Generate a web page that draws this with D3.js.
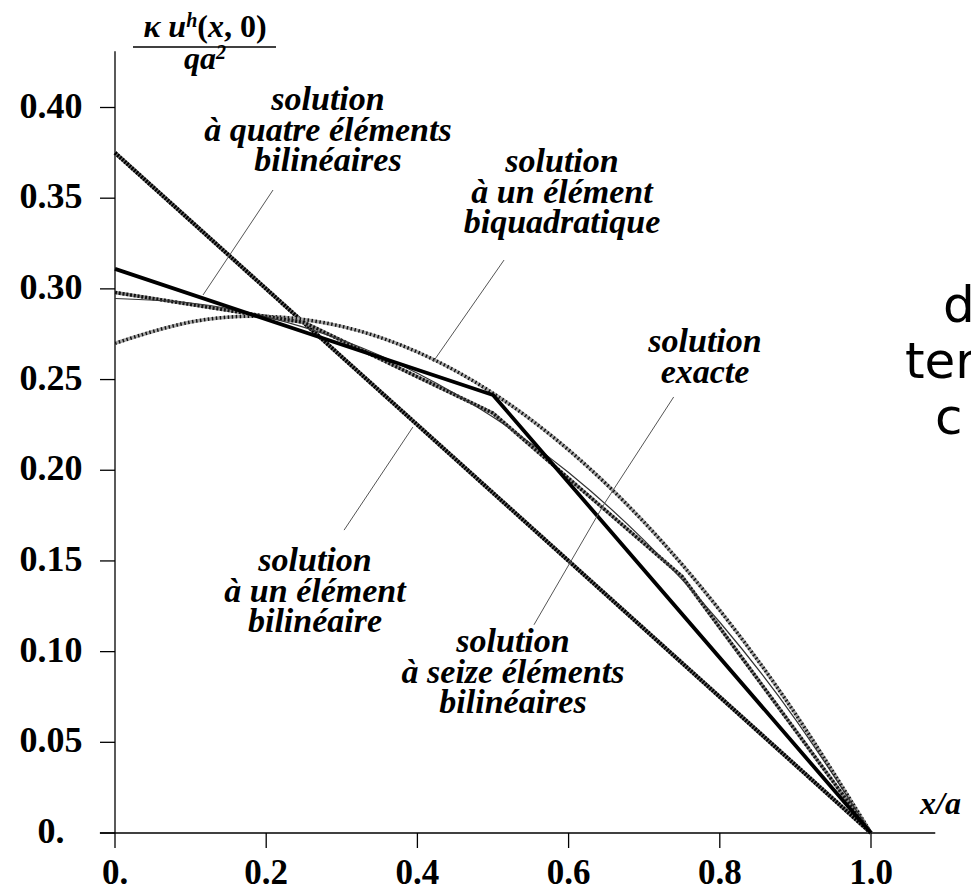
<!DOCTYPE html>
<html>
<head>
<meta charset="utf-8">
<script src="https://cdn.jsdelivr.net/npm/d3@7"></script>
<style>
  body { margin: 0; background: #ffffff; }
  svg { display: block; }
</style>
</head>
<body>
<div id="chart"></div>
<script>
// Sample positions along the edge y = 0 (x/a)
var xFine = [0, 0.1, 0.2, 0.3, 0.4, 0.5, 0.6, 0.7, 0.8, 0.9, 1.0];
var exactValues = [0.2947, 0.2922, 0.2846, 0.2718, 0.2535, 0.2293, 0.1988, 0.1613, 0.1162, 0.0627, 0];
var biquadValues = [0.270, 0.2817, 0.2848, 0.2793, 0.2652, 0.2425, 0.2112, 0.1713, 0.1228, 0.0657, 0];

// Nodal values of the bilinear meshes
var xSixteen = [0, 0.25, 0.5, 0.75, 1.0];
var sixteenValues = [0.298, 0.2815, 0.2315, 0.1415, 0];
var xFour = [0, 0.5, 1.0];
var fourValues = [0.311, 0.2415, 0];
var xOne = [0, 1.0];
var oneValues = [0.375, 0];

// Axis ticks
var xTicks = [0, 0.2, 0.4, 0.6, 0.8, 1.0];
var xTickLabels = ["0.", "0.2", "0.4", "0.6", "0.8", "1.0"];
var yTicks = [0, 0.05, 0.10, 0.15, 0.20, 0.25, 0.30, 0.35, 0.40];
var yTickLabels = ["0.", "0.05", "0.10", "0.15", "0.20", "0.25", "0.30", "0.35", "0.40"];

var drawChart = function () {
  const width = 971;
  const height = 893;
  var serif = "'Liberation Serif', 'Times New Roman', serif";

  var svg = d3.select("#chart")
    .append("svg")
    .attr("width", width)
    .attr("height", height)
    .style("background-color", "#ffffff");

  // Scales
  var x = d3.scaleLinear().domain([0, 1]).range([115, 871]);
  var y = d3.scaleLinear().domain([0, 0.4]).range([833, 107.5]);

  // Axis lines run a bit past the data
  var xExtent = [-0.02, 1.085];
  var yExtent = [0, 0.431];

  var axes = svg.append("g").attr("stroke", "#000").attr("stroke-width", 1.3);
  axes.append("line")
    .attr("x1", x(xExtent[0])).attr("x2", x(xExtent[1]))
    .attr("y1", y(0)).attr("y2", y(0));
  axes.append("line")
    .attr("x1", x(0)).attr("x2", x(0))
    .attr("y1", y(yExtent[1])).attr("y2", y(yExtent[0]));

  // x ticks point down, y ticks point left
  axes.selectAll(".xt").data(xTicks).enter().append("line")
    .attr("x1", d => x(d)).attr("x2", d => x(d))
    .attr("y1", y(0)).attr("y2", y(0) + 15);
  axes.selectAll(".yt").data(yTicks).enter().append("line")
    .attr("x1", x(0) - 15).attr("x2", x(0))
    .attr("y1", d => y(d)).attr("y2", d => y(d));

  svg.append("g").selectAll("text").data(xTicks).enter().append("text")
    .attr("x", d => x(d))
    .attr("y", y(0) + 51)
    .attr("text-anchor", "middle")
    .attr("font-family", serif).attr("font-weight", "bold").attr("font-size", 35)
    .text((d, i) => xTickLabels[i]);

  svg.append("g").selectAll("text").data(yTicks).enter().append("text")
    .attr("x", 51)
    .attr("y", d => y(d) + 10)
    .attr("text-anchor", "middle")
    .attr("font-family", serif).attr("font-weight", "bold").attr("font-size", 36)
    .text((d, i) => yTickLabels[i]);

  // y title as a fraction
  var yTitle = svg.append("g")
    .attr("font-family", serif).attr("font-weight", "bold").attr("font-size", 32);
  var num = yTitle.append("text").attr("x", 205).attr("y", 37).attr("text-anchor", "middle");
  num.append("tspan").attr("font-style", "italic").text("κ u");
  num.append("tspan").attr("font-style", "italic").attr("font-size", 20).attr("dy", -10).text("h");
  num.append("tspan").attr("dy", 10).text("(");
  num.append("tspan").attr("font-style", "italic").text("x");
  num.append("tspan").text(", 0)");
  yTitle.append("line")
    .attr("x1", 133).attr("x2", 276).attr("y1", 47).attr("y2", 47)
    .attr("stroke", "#000").attr("stroke-width", 1.5);
  var den = yTitle.append("text").attr("x", 205).attr("y", 69)
    .attr("text-anchor", "middle").attr("font-style", "italic");
  den.append("tspan").text("qa");
  den.append("tspan").attr("font-size", 20).attr("dy", -10).text("2");

  svg.append("text")
    .attr("x", 920).attr("y", 814)
    .attr("font-family", serif).attr("font-weight", "bold")
    .attr("font-style", "italic").attr("font-size", 32)
    .text("x/a");

  // Curves
  var line = d3.line().x(d => x(d[0])).y(d => y(d[1]));
  var smooth = d3.line().x(d => x(d[0])).y(d => y(d[1])).curve(d3.curveNatural);
  var pairs = (xs, vs) => xs.map((v, i) => [v, vs[i]]);

  var plot = svg.append("g").attr("fill", "none").attr("stroke-linejoin", "round");

  // one bilinear element: dark hatched straight line
  plot.append("path").attr("d", line(pairs(xOne, oneValues)))
    .attr("stroke", "#6e6e6e").attr("stroke-width", 4);
  plot.append("path").attr("d", line(pairs(xOne, oneValues)))
    .attr("stroke", "#000").attr("stroke-width", 4).attr("stroke-dasharray", "2,1.2");

  // one biquadratic element: lighter hatched curve
  plot.append("path").attr("d", smooth(pairs(xFine, biquadValues)))
    .attr("stroke", "#a8a8a8").attr("stroke-width", 3.5);
  plot.append("path").attr("d", smooth(pairs(xFine, biquadValues)))
    .attr("stroke", "#111").attr("stroke-width", 3.5).attr("stroke-dasharray", "1.5,2.5");

  // sixteen bilinear elements: hatched polyline
  plot.append("path").attr("d", line(pairs(xSixteen, sixteenValues)))
    .attr("stroke", "#8a8a8a").attr("stroke-width", 3.5);
  plot.append("path").attr("d", line(pairs(xSixteen, sixteenValues)))
    .attr("stroke", "#111").attr("stroke-width", 3.5).attr("stroke-dasharray", "2,1.8");

  // exact solution: thin line
  plot.append("path").attr("d", smooth(pairs(xFine, exactValues)))
    .attr("stroke", "#333").attr("stroke-width", 1.2);

  // four bilinear elements: solid black
  plot.append("path").attr("d", line(pairs(xFour, fourValues)))
    .attr("stroke", "#000").attr("stroke-width", 3.8);

  // Annotations: text blocks and leader lines (leaders in data units)
  var notes = [
    { lines: ["solution", "à quatre éléments", "bilinéaires"], cx: 328, top: 110,
      lead: [[0.209, 0.3545], [0.1164, 0.2966]] },
    { lines: ["solution", "à un élément", "biquadratique"], cx: 562, top: 172,
      lead: [[0.5146, 0.3159], [0.4206, 0.2597]] },
    { lines: ["solution", "exacte"], cx: 705, top: 352,
      lead: [[0.739, 0.2404], [0.647, 0.1814]] },
    { lines: ["solution", "à un élément", "bilinéaire"], cx: 315, top: 571,
      lead: [[0.394, 0.2238], [0.303, 0.167]] },
    { lines: ["solution", "à seize éléments", "bilinéaires"], cx: 513, top: 652,
      lead: [[0.5542, 0.1148], [0.647, 0.1814]] }
  ];

  var ann = svg.append("g");
  notes.forEach(function (n) {
    ann.append("line")
      .attr("x1", x(n.lead[0][0])).attr("y1", y(n.lead[0][1]))
      .attr("x2", x(n.lead[1][0])).attr("y2", y(n.lead[1][1]))
      .attr("stroke", "#555").attr("stroke-width", 1);
    var t = ann.append("text")
      .attr("text-anchor", "middle")
      .attr("font-family", serif).attr("font-weight", "bold")
      .attr("font-style", "italic").attr("font-size", 34);
    n.lines.forEach(function (s, i) {
      t.append("tspan").attr("x", n.cx).attr("y", n.top + i * 30.5).text(s);
    });
  });

  // Pieces of text cut off at the right edge
  var frag = svg.append("g")
    .attr("font-family", "'DejaVu Sans', Verdana, sans-serif").attr("font-size", 50);
  frag.append("text").attr("x", 943).attr("y", 322).text("d");
  frag.append("text").attr("x", 905).attr("y", 378).text("ter");
  frag.append("text").attr("x", 935).attr("y", 434).text("c");
};

drawChart();
</script>
</body>
</html>
